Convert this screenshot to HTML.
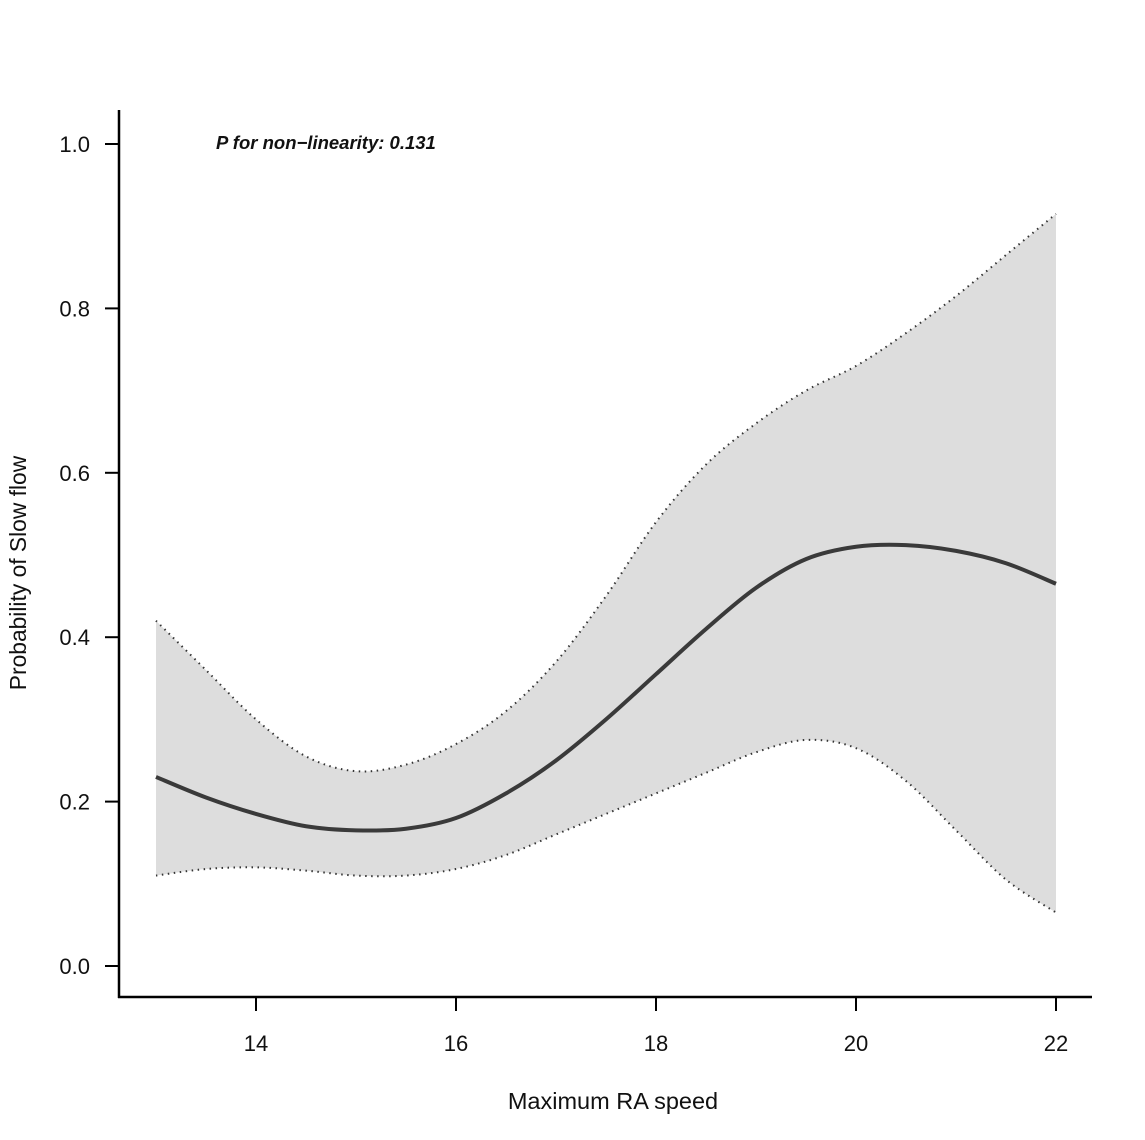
<!DOCTYPE html>
<html><head><meta charset="utf-8"><style>
html,body{margin:0;padding:0;background:#fff;}
svg{display:block;font-family:"Liberation Sans",Arial,sans-serif;}
</style></head><body>
<svg id="chart" width="1145" height="1140" viewBox="0 0 1145 1140" xmlns="http://www.w3.org/2000/svg">
<g id="plot"></g>
</svg>
<script>
const xVals=[13,13.5,14,14.5,15,15.5,16,16.5,17,17.5,18,18.5,19,19.5,20,20.5,21,21.5,22];
const midVals=[0.23,0.205,0.185,0.17,0.165,0.167,0.18,0.21,0.25,0.30,0.355,0.41,0.46,0.495,0.51,0.512,0.505,0.49,0.465];
const upperVals=[0.42,0.36,0.30,0.255,0.237,0.245,0.27,0.31,0.37,0.45,0.54,0.61,0.66,0.70,0.73,0.77,0.815,0.865,0.915];
const lowerVals=[0.11,0.118,0.12,0.116,0.11,0.11,0.118,0.135,0.16,0.185,0.21,0.235,0.26,0.275,0.265,0.225,0.165,0.105,0.065];
const xTicks=[14,16,18,20,22];
const yTicks=[0.0,0.2,0.4,0.6,0.8,1.0];
const yTickLabels=["0.0","0.2","0.4","0.6","0.8","1.0"];

const NS="http://www.w3.org/2000/svg";
const g=document.getElementById('plot');
function X(v){return 256+(v-14)*100;}
function Y(v){return 966-v*822;}
function mk(tag,attrs){const e=document.createElementNS(NS,tag);for(const k in attrs)e.setAttribute(k,attrs[k]);g.appendChild(e);return e;}
function smooth(pts,move){
  let d=move?`M${pts[0][0]},${pts[0][1]}`:`L${pts[0][0]},${pts[0][1]}`;
  for(let i=0;i<pts.length-1;i++){
    const p0=pts[Math.max(i-1,0)],p1=pts[i],p2=pts[i+1],p3=pts[Math.min(i+2,pts.length-1)];
    const c1=[p1[0]+(p2[0]-p0[0])/6,p1[1]+(p2[1]-p0[1])/6];
    const c2=[p2[0]-(p3[0]-p1[0])/6,p2[1]-(p3[1]-p1[1])/6];
    d+=` C${c1[0]},${c1[1]} ${c2[0]},${c2[1]} ${p2[0]},${p2[1]}`;
  }
  return d;
}
const up=xVals.map((x,i)=>[X(x),Y(upperVals[i])]);
const lo=xVals.map((x,i)=>[X(x),Y(lowerVals[i])]);
const md=xVals.map((x,i)=>[X(x),Y(midVals[i])]);
const loRev=lo.slice().reverse();

let band=mk('path',{d:smooth(up,true)+' '+smooth(loRev,false)+' Z',fill:'#dddddd',stroke:'none'});


let ul=mk('path',{d:smooth(up,true),fill:'none',stroke:'#333','stroke-width':2,'stroke-dasharray':'1.5,4.5'});


let ll=mk('path',{d:smooth(lo,true),fill:'none',stroke:'#333','stroke-width':2,'stroke-dasharray':'1.5,4.5'});


let ml=mk('path',{d:smooth(md,true),fill:'none',stroke:'#3a3a3a','stroke-width':4});



let ya=mk('line',{x1:119,y1:110,x2:119,y2:998,stroke:'#000','stroke-width':2.5});


let xa=mk('line',{x1:118,y1:997,x2:1092,y2:997,stroke:'#000','stroke-width':2.5});



yTicks.forEach((v,i)=>{
  let t=mk('line',{x1:105,y1:Y(v),x2:119,y2:Y(v),stroke:'#000','stroke-width':2});
  
  
  let l=mk('text',{x:90,y:Y(v)+8,'text-anchor':'end','font-size':22,fill:'#111'});
  l.textContent=yTickLabels[i];
  
  
});
xTicks.forEach(v=>{
  let t=mk('line',{x1:X(v),y1:997,x2:X(v),y2:1011,stroke:'#000','stroke-width':2});
  
  
  let l=mk('text',{x:X(v),y:1051,'text-anchor':'middle','font-size':22,fill:'#111'});
  l.textContent=String(v);
  
  
});
let xt=mk('text',{x:613,y:1109,'text-anchor':'middle','font-size':23.5,fill:'#111'});
xt.textContent='Maximum RA speed';


let yt=mk('text',{x:0,y:0,'text-anchor':'middle','font-size':22.8,fill:'#111',transform:'translate(26,573) rotate(-90)'});
yt.textContent='Probability of Slow flow';


let an=mk('text',{x:216,y:149,'font-size':18.5,'font-weight':'bold','font-style':'italic',fill:'#111'});
an.textContent='P for non\u2212linearity: 0.131';


</script>
</body></html>
